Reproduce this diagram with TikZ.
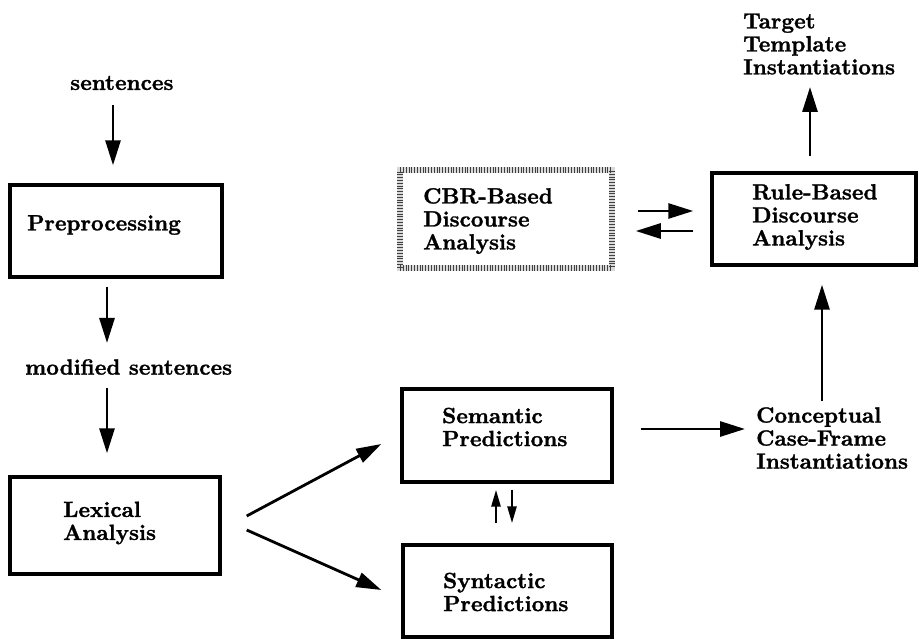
\documentclass[tikz,border=0pt]{standalone}
\usepackage{fontspec}
\newfontfamily\lblfont[FakeBold=1.3]{lmroman10-bold.otf}
\usetikzlibrary{arrows.meta}
\begin{document}
\begin{tikzpicture}[x=1pt,y=-1pt,
  box/.style={draw,line width=3.4pt,inner sep=0pt},
  cbrbox/.style={draw=black!15,line width=5.5pt,inner sep=0pt,
    postaction={draw=black!75,line width=5.5pt,dash pattern=on 1pt off 1.8pt}},
  lbl/.style={anchor=west,align=left,inner sep=0pt,
    font=\lblfont\fontsize{22}{23}\selectfont},
  arr/.style={line width=2.8pt,-{Triangle[length=25pt,width=15pt]}},
  sarr/.style={line width=2.6pt,-{Triangle[length=17pt,width=9pt]}}]
\useasboundingbox (0,0) rectangle (919,639);

% boxes
\node[box,minimum width=212pt,minimum height=92pt] (pre) at (116,231) {};
\node[box,minimum width=210pt,minimum height=97pt] (lex) at (115,525.5) {};
\node[box,minimum width=210pt,minimum height=93pt] (sem) at (507,435.5) {};
\node[box,minimum width=209pt,minimum height=92pt] (syn) at (507.5,591) {};
\node[box,minimum width=204pt,minimum height=92pt] (rule) at (814,219) {};
\node[cbrbox,minimum width=212pt,minimum height=98pt] (cbr) at (506,219) {};

% texts
\node[lbl] (sent) at (70,83) {sentences};
\node[lbl] (preT) at (27,225) {Preprocessing};
\node[lbl] (mod) at (25,367) {modified sentences};
\node[lbl] (lexT) at (63,523) {Lexical\\Analysis};
\node[lbl] (semT) at (442,427) {Semantic\\Predictions};
\node[lbl] (synT) at (443,592) {Syntactic\\Predictions};
\node[lbl] (con) at (756,438) {Conceptual\\Case-Frame\\Instantiations};
\node[lbl] (ruleT) at (752,217) {Rule-Based\\Discourse\\Analysis};
\node[lbl] (tgt) at (743,44) {Target\\Template\\Instantiations};
\node[lbl] (cbrT) at (423,221) {CBR-Based\\Discourse\\Analysis};

% connectors
\draw[arr] ([shift={(43,22)}]sent.west) -- ([shift={(-3,-18)}]pre.north);
\draw[arr] ([shift={(-9,8)}]pre.south) -- ([shift={(82,-24)}]mod.west);
\draw[arr] ([shift={(82,21)}]mod.west) -- ([shift={(-8,-22)}]lex.north);
\draw[arr] ([shift={(25,-9.5)}]lex.east) -- ([shift={(-19,8.5)}]sem.west);
\draw[arr] ([shift={(25,4.5)}]lex.east) -- ([shift={(-20,-1)}]syn.west);
\draw[sarr] ([shift={(5,6)}]sem.south) -- ([shift={(4.5,-20)}]syn.north);
\draw[sarr] ([shift={(-11.5,-20)}]syn.north) -- ([shift={(-11,6)}]sem.south);
\draw[arr] ([shift={(27,-6.5)}]sem.east) -- ([shift={(-11,-9)}]con.west);
\draw[arr] ([shift={(66,-37)}]con.west) -- ([shift={(8,18)}]rule.south);
\draw[arr] ([shift={(-4,-15)}]rule.north) -- ([shift={(67,43)}]tgt.west);
\draw[arr] ([shift={(23,-8)}]cbr.east) -- ([shift={(-17,-8)}]rule.west);
\draw[arr] ([shift={(-17,12)}]rule.west) -- ([shift={(21,12)}]cbr.east);
\end{tikzpicture}
\end{document}
